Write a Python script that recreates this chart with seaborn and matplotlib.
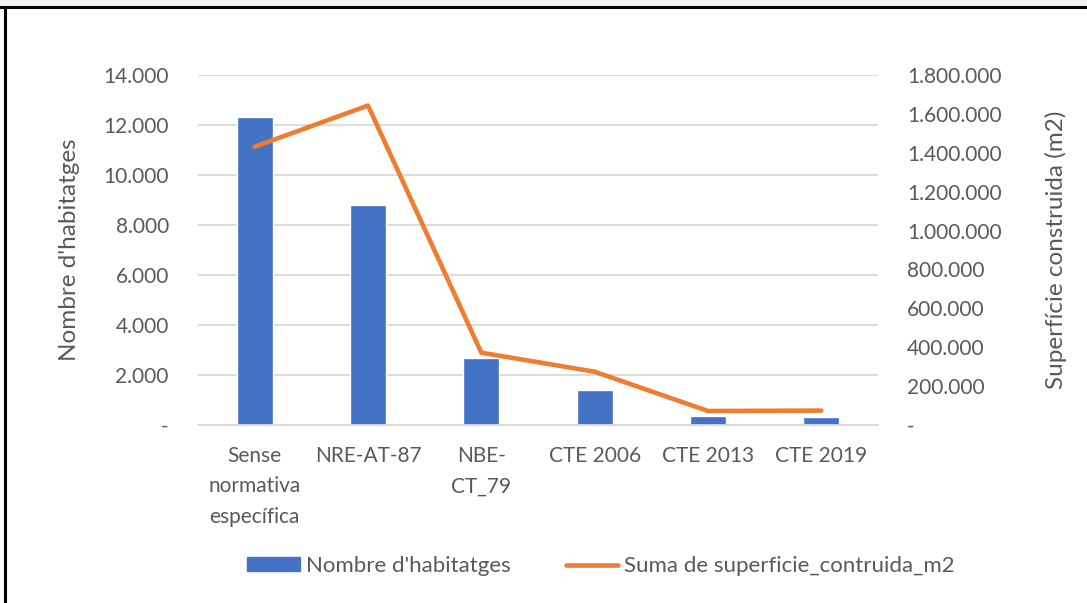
import numpy as np
import pandas as pd
import matplotlib
matplotlib.use("Agg")
import matplotlib.pyplot as plt
from matplotlib.ticker import FuncFormatter
from matplotlib.lines import Line2D
from matplotlib.patches import Rectangle
import seaborn as sns

# Data
categories = ["Sense\nnormativa\nespecífica", "NRE-AT-87", "NBE-\nCT_79",
              "CTE 2006", "CTE 2013", "CTE 2019"]
habitatges = [12330, 8800, 2670, 1390, 375, 335]
superficie = [1431000, 1643000, 372000, 274000, 72000, 74000]

BLUE = "#4472C4"
ORANGE = "#ED7D31"
GREY = "#595959"

sns.set_theme(style="white")
plt.rcParams["font.family"] = ["Lato", "DejaVu Sans"]

df = pd.DataFrame({"cat": categories, "hab": habitatges, "sup": superficie})
df["pos"] = np.arange(len(df))


def dot_fmt(v, _):
    if abs(v) < 1e-9:
        return "-"
    return f"{v:,.0f}".replace(",", ".")


fig = plt.figure(figsize=(10.87, 6.03), dpi=100)
ax = fig.add_axes([198 / 1087, 1 - 425 / 603, 680 / 1087, 350 / 603])

sns.barplot(data=df, x="cat", y="hab", color=BLUE, width=0.32,
            saturation=1, ax=ax)
ax.set_ylim(0, 14000)
ax.set_xlim(-0.5, len(df) - 0.5)
ax.set_yticks(np.arange(0, 14001, 2000))
ax.yaxis.set_major_formatter(FuncFormatter(dot_fmt))
ax.grid(axis="y", color="#d9d9d9", linewidth=1.3)
ax.set_axisbelow(True)
for s in ["top", "right", "left"]:
    ax.spines[s].set_visible(False)
ax.spines["bottom"].set_color("#d9d9d9")
ax.spines["bottom"].set_linewidth(1.3)
ax.tick_params(axis="both", length=0, labelsize=15, colors=GREY)
ax.tick_params(axis="y", pad=21)
ax.tick_params(axis="x", pad=15)
for lbl in ax.get_xticklabels():
    lbl.set_linespacing(1.65)
    lbl.set_verticalalignment("top")
ax.set_xlabel("")
ax.set_ylabel("Nombre d'habitatges", fontsize=17.5, color=GREY)
ax.yaxis.set_label_coords(-0.1735, 0.5)

ax2 = ax.twinx()
sns.lineplot(data=df, x="pos", y="sup", color=ORANGE, linewidth=3.3,
             solid_capstyle="round", ax=ax2, legend=False)
ax2.set_ylim(0, 1800000)
ax2.set_xlim(-0.5, len(df) - 0.5)
ax2.set_yticks(np.arange(0, 1800001, 200000))
ax2.yaxis.set_major_formatter(FuncFormatter(dot_fmt))
for s in ax2.spines.values():
    s.set_visible(False)
ax2.tick_params(axis="y", length=0, labelsize=15, colors=GREY, pad=21)
ax2.set_xlabel("")
ax2.set_ylabel("Superfície construida (m2)", fontsize=17.5, color=GREY)
ax2.yaxis.set_label_coords(1.2456, 0.5)
ax2.grid(False)

handles = [Rectangle((0, 0), 1, 1, color=BLUE),
           Line2D([0], [0], color=ORANGE, linewidth=3.3, solid_capstyle="round")]
fig.legend(handles, ["Nombre d'habitatges", "Suma de superficie_contruida_m2"],
           loc="center", bbox_to_anchor=(0.553, 1 - 566 / 603), ncol=2,
           frameon=False, fontsize=16, labelcolor=GREY, handlelength=2.35,
           handleheight=0.6, handletextpad=0.27, columnspacing=2.5)

# outer frame like the screenshot
fig.patches.append(Rectangle((0, 1 - 6 / 603), 1, 6 / 603, transform=fig.transFigure,
                             facecolor="#f0f0f0", edgecolor="none"))
fig.add_artist(Line2D([0, 1], [1 - 7 / 603, 1 - 7 / 603], transform=fig.transFigure,
                      color="black", linewidth=2.2))
fig.add_artist(Line2D([5 / 1087, 5 / 1087], [0, 1 - 7 / 603], transform=fig.transFigure,
                      color="black", linewidth=2.2))

fig.savefig("out.png", dpi=100)
